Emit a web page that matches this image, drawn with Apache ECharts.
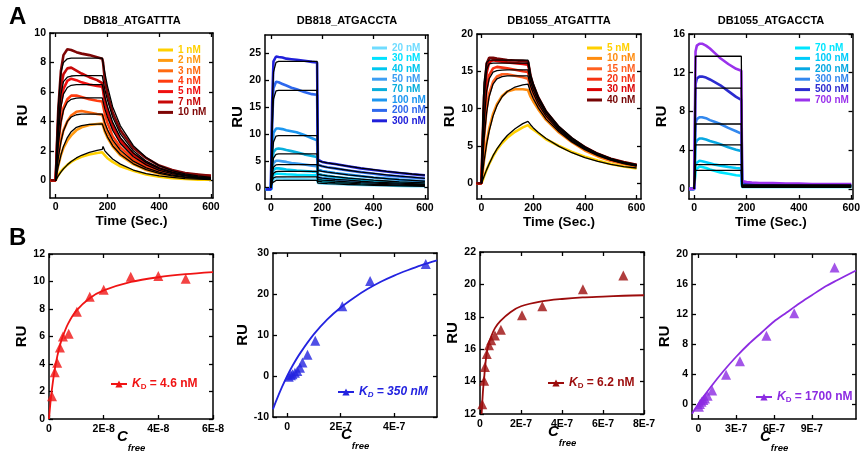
<!DOCTYPE html>
<html><head><meta charset="utf-8">
<script src="https://cdn.jsdelivr.net/npm/echarts@6/dist/echarts.min.js"></script>
<style>html,body{margin:0;padding:0;background:#fff}#c{width:863px;height:456px}</style>
</head><body><div id="c"></div>
<script>
// ---------- DATA ----------
const T = [-20, 0, 5, 10, 20, 30, 45, 60, 80, 100, 130, 160, 180, 183, 190, 200, 220, 250, 300, 350, 400, 450, 500, 550, 600];

const panelTitles = ['DB818_ATGATTTA', 'DB818_ATGACCTA', 'DB1055_ATGATTTA', 'DB1055_ATGACCTA'];

// A1 DB818_ATGATTTA
const a1Names = ['1 nM', '2 nM', '3 nM', '4 nM', '5 nM', '7 nM', '10 nM'];
const a1Data = [
  [0, 0, 0.2, 0.35, 0.6, 0.8, 1.05, 1.25, 1.45, 1.6, 1.75, 1.85, 1.9, 1.85, 1.7, 1.5, 1.25, 0.95, 0.65, 0.4, 0.25, 0.15, 0.1, 0.05, 0.05],
  [0, 0, 0.6, 1.0, 1.7, 2.2, 2.7, 3.05, 3.4, 3.6, 3.75, 3.82, 3.85, 3.7, 3.3, 2.9, 2.3, 1.7, 1.1, 0.7, 0.45, 0.3, 0.2, 0.15, 0.1],
  [0, 0, 1.0, 1.7, 2.7, 3.4, 4.0, 4.4, 4.65, 4.7, 4.6, 4.5, 4.45, 4.3, 3.8, 3.3, 2.6, 1.9, 1.25, 0.8, 0.55, 0.4, 0.3, 0.2, 0.15],
  [0, 0, 1.4, 2.5, 4.0, 4.9, 5.5, 5.75, 5.75, 5.65, 5.5, 5.4, 5.35, 5.1, 4.5, 3.9, 3.0, 2.25, 1.45, 0.95, 0.65, 0.45, 0.35, 0.25, 0.2],
  [0, 0, 1.8, 3.2, 5.2, 6.2, 6.75, 6.9, 6.8, 6.65, 6.5, 6.4, 6.35, 6.1, 5.3, 4.6, 3.6, 2.65, 1.7, 1.1, 0.75, 0.55, 0.4, 0.3, 0.25],
  [0, 0, 2.3, 4.2, 6.3, 7.2, 7.6, 7.65, 7.45, 7.25, 7.0, 6.8, 6.6, 6.3, 5.5, 4.8, 3.7, 2.8, 1.8, 1.2, 0.8, 0.6, 0.45, 0.35, 0.3],
  [0, 0, 2.5, 4.8, 7.4, 8.5, 8.9, 8.85, 8.7, 8.6, 8.5, 8.35, 8.25, 8.0, 6.8, 5.9, 4.6, 3.4, 2.2, 1.5, 1.0, 0.7, 0.5, 0.4, 0.3]
];
const a1Fit = [
  [null, 0, 0.15, 0.3, 0.55, 0.78, 1.05, 1.28, 1.52, 1.7, 1.9, 2.03, 2.1, 2.3, 2.0, 1.8, 1.45, 1.1, 0.7, 0.45, 0.3, 0.2, 0.12, 0.08, 0.05],
  [null, 0, 0.5, 0.95, 1.7, 2.3, 2.9, 3.3, 3.6, 3.72, 3.8, 3.82, 3.83, 3.75, 3.35, 2.95, 2.35, 1.75, 1.12, 0.72, 0.47, 0.3, 0.2, 0.13, 0.09],
  [null, 0, 0.8, 1.5, 2.6, 3.35, 4.0, 4.3, 4.45, 4.5, 4.5, 4.5, 4.5, 4.4, 3.9, 3.45, 2.75, 2.05, 1.3, 0.85, 0.55, 0.36, 0.24, 0.16, 0.1],
  [null, 0, 1.3, 2.4, 3.9, 4.75, 5.3, 5.5, 5.58, 5.6, 5.6, 5.6, 5.6, 5.5, 4.85, 4.3, 3.4, 2.5, 1.6, 1.05, 0.68, 0.45, 0.3, 0.2, 0.13],
  [null, 0, 1.7, 3.1, 4.95, 5.85, 6.3, 6.45, 6.5, 6.5, 6.5, 6.5, 6.5, 6.4, 5.65, 5.0, 3.95, 2.9, 1.85, 1.2, 0.8, 0.52, 0.34, 0.22, 0.15],
  [null, 0, 2.0, 3.7, 5.8, 6.7, 7.0, 7.08, 7.1, 7.1, 7.1, 7.1, 7.1, 7.0, 6.15, 5.45, 4.3, 3.15, 2.0, 1.3, 0.85, 0.56, 0.37, 0.24, 0.16],
  [null, 0, 2.8, 5.0, 7.3, 8.0, 8.25, 8.3, 8.3, 8.3, 8.3, 8.3, 8.3, 8.4, 7.3, 6.4, 5.0, 3.7, 2.35, 1.55, 1.0, 0.66, 0.44, 0.3, 0.2]
];

// A2 DB818_ATGACCTA
const a2Names = ['20 nM', '30 nM', '40 nM', '50 nM', '70 nM', '100 nM', '200 nM', '300 nM'];
const a2Data = [
  [-0.3, -0.3, 1.0, 1.6, 1.75, 1.7, 1.7, 1.65, 1.6, 1.6, 1.55, 1.5, 1.5, 0.9, 0.85, 0.8, 0.75, 0.7, 0.6, 0.52, 0.45, 0.4, 0.35, 0.3, 0.28],
  [-0.3, -0.3, 1.5, 2.4, 2.6, 2.6, 2.55, 2.5, 2.45, 2.4, 2.35, 2.3, 2.3, 1.25, 1.2, 1.15, 1.05, 0.95, 0.85, 0.72, 0.62, 0.55, 0.48, 0.42, 0.38],
  [-0.3, -0.3, 2.1, 3.3, 3.6, 3.6, 3.5, 3.4, 3.3, 3.2, 3.1, 3.0, 2.95, 1.6, 1.5, 1.45, 1.35, 1.25, 1.1, 0.95, 0.8, 0.7, 0.6, 0.55, 0.5],
  [-0.3, -0.3, 3.0, 4.6, 5.0, 5.0, 4.9, 4.8, 4.6, 4.5, 4.3, 4.1, 4.0, 2.0, 1.9, 1.8, 1.7, 1.55, 1.35, 1.15, 1.0, 0.85, 0.75, 0.65, 0.6],
  [-0.3, -0.3, 4.2, 6.6, 7.2, 7.3, 7.2, 7.0, 6.8, 6.6, 6.2, 5.9, 5.7, 2.6, 2.45, 2.35, 2.2, 2.0, 1.75, 1.5, 1.3, 1.15, 1.0, 0.9, 0.8],
  [-0.3, -0.3, 6.5, 10.2, 11.0, 11.0, 10.9, 10.7, 10.5, 10.3, 9.8, 9.2, 8.8, 3.4, 3.2, 3.1, 2.95, 2.75, 2.45, 2.15, 1.9, 1.7, 1.5, 1.35, 1.2],
  [-0.3, -0.3, 12.0, 18.5, 19.7, 19.6, 19.3, 19.0, 18.6, 18.3, 17.8, 17.4, 17.3, 4.3, 4.1, 4.0, 3.8, 3.6, 3.2, 2.9, 2.6, 2.3, 2.1, 1.9, 1.7],
  [-0.3, -0.3, 16.0, 23.5, 24.4, 24.3, 24.2, 24.0, 23.9, 23.8, 23.6, 23.4, 23.3, 5.2, 4.9, 4.8, 4.6, 4.4, 4.0, 3.6, 3.3, 3.0, 2.75, 2.5, 2.3]
];
const a2Fit = [
  [null, 0, 0.9, 1.25, 1.35, 1.35, 1.35, 1.35, 1.35, 1.35, 1.35, 1.35, 1.35, 0.85, 0.82, 0.8, 0.75, 0.7, 0.6, 0.52, 0.45, 0.4, 0.35, 0.3, 0.27],
  [null, 0, 1.3, 1.85, 2.0, 2.0, 2.0, 2.0, 2.0, 2.0, 2.0, 2.0, 2.0, 1.2, 1.15, 1.1, 1.05, 0.95, 0.85, 0.72, 0.62, 0.55, 0.48, 0.42, 0.38],
  [null, 0, 1.7, 2.7, 3.0, 3.05, 3.05, 3.05, 3.05, 3.05, 3.05, 3.05, 3.05, 1.5, 1.45, 1.4, 1.35, 1.25, 1.1, 0.95, 0.85, 0.75, 0.65, 0.6, 0.55],
  [null, 0, 2.4, 3.8, 4.25, 4.3, 4.3, 4.3, 4.3, 4.3, 4.3, 4.3, 4.3, 1.9, 1.85, 1.8, 1.7, 1.55, 1.4, 1.2, 1.05, 0.95, 0.85, 0.75, 0.65],
  [null, 0, 3.5, 5.5, 6.2, 6.3, 6.3, 6.3, 6.3, 6.3, 6.3, 6.3, 6.3, 2.5, 2.45, 2.35, 2.2, 2.05, 1.8, 1.6, 1.4, 1.25, 1.1, 1.0, 0.9],
  [null, 0, 5.5, 8.5, 9.6, 9.7, 9.7, 9.7, 9.7, 9.7, 9.7, 9.7, 9.7, 3.2, 3.1, 3.05, 2.9, 2.7, 2.4, 2.15, 1.9, 1.7, 1.5, 1.35, 1.2],
  [null, 0, 11.0, 16.5, 18.0, 18.1, 18.1, 18.1, 18.1, 18.1, 18.1, 18.1, 18.1, 4.2, 4.1, 4.0, 3.8, 3.6, 3.25, 2.9, 2.65, 2.4, 2.15, 1.95, 1.75],
  [null, 0, 15.0, 21.5, 23.3, 23.5, 23.5, 23.5, 23.5, 23.5, 23.5, 23.5, 23.5, 5.0, 4.9, 4.8, 4.6, 4.4, 4.0, 3.65, 3.35, 3.05, 2.8, 2.55, 2.35]
];

// A3 DB1055_ATGATTTA
const a3Names = ['5 nM ', '10 nM ', '15 nM ', '20 nM ', '30 nM ', '40 nM '];
const a3Data = [
  [0, 0, 0.4, 0.9, 1.8, 2.6, 3.6, 4.5, 5.4, 6.1, 6.9, 7.5, 7.8, 7.7, 7.45, 7.2, 6.7, 5.9, 5.0, 4.2, 3.55, 3.05, 2.6, 2.25, 2.0],
  [0, 0, 1.5, 3.0, 5.5, 7.3, 9.3, 10.6, 11.7, 12.3, 12.6, 12.6, 12.5, 12.3, 11.6, 11.0, 9.9, 8.5, 6.8, 5.5, 4.4, 3.6, 3.0, 2.6, 2.25],
  [0, 0, 3.0, 6.0, 10.0, 12.0, 13.6, 14.3, 14.6, 14.6, 14.4, 14.2, 14.0, 13.7, 12.7, 11.9, 10.5, 8.9, 7.0, 5.6, 4.55, 3.75, 3.1, 2.7, 2.35],
  [0, 0, 4.0, 8.0, 12.5, 14.5, 15.4, 15.6, 15.5, 15.4, 15.2, 15.0, 14.9, 14.5, 13.4, 12.4, 10.9, 9.2, 7.2, 5.8, 4.7, 3.85, 3.2, 2.75, 2.4],
  [0, 0, 5.0, 10.0, 14.8, 16.2, 16.5, 16.4, 16.3, 16.2, 16.1, 16.0, 15.9, 15.5, 14.1, 13.0, 11.3, 9.5, 7.4, 5.9, 4.8, 3.9, 3.25, 2.8, 2.45],
  [0, 0, 6.0, 11.5, 16.0, 16.8, 16.8, 16.7, 16.6, 16.5, 16.45, 16.4, 16.3, 15.8, 14.4, 13.2, 11.5, 9.6, 7.5, 6.0, 4.85, 3.95, 3.3, 2.85, 2.5]
];
const a3Fit = [
  [null, 0, 0.45, 0.9, 1.8, 2.6, 3.7, 4.6, 5.6, 6.4, 7.3, 8.0, 8.3, 8.15, 7.85, 7.45, 6.8, 6.0, 4.95, 4.1, 3.45, 2.95, 2.55, 2.25, 2.05],
  [null, 0, 1.5, 2.9, 5.2, 7.0, 9.0, 10.4, 11.6, 12.3, 12.9, 13.2, 13.3, 13.1, 12.2, 11.4, 10.1, 8.6, 6.9, 5.55, 4.5, 3.7, 3.1, 2.65, 2.3],
  [null, 0, 3.0, 5.8, 9.4, 11.6, 13.3, 14.0, 14.3, 14.4, 14.4, 14.4, 14.4, 14.2, 13.0, 12.1, 10.6, 9.0, 7.1, 5.7, 4.6, 3.8, 3.15, 2.7, 2.35],
  [null, 0, 4.5, 8.0, 12.3, 14.0, 14.9, 15.1, 15.15, 15.2, 15.2, 15.2, 15.2, 15.0, 13.6, 12.6, 11.0, 9.3, 7.3, 5.85, 4.75, 3.9, 3.25, 2.75, 2.4],
  [null, 0, 6.5, 11.5, 15.2, 16.0, 16.1, 16.1, 16.1, 16.1, 16.1, 16.1, 16.1, 15.9, 14.3, 13.2, 11.4, 9.6, 7.5, 6.0, 4.85, 3.95, 3.3, 2.8, 2.45],
  [null, 0, 8.0, 13.5, 16.2, 16.5, 16.5, 16.5, 16.5, 16.5, 16.5, 16.5, 16.5, 16.2, 14.6, 13.4, 11.6, 9.7, 7.6, 6.1, 4.9, 4.0, 3.3, 2.85, 2.5]
];

// A4 DB1055_ATGACCTA
const a4Names = ['70 nM ', '100 nM ', '200 nM ', '300 nM ', '500 nM ', '700 nM '];
const a4Data = [
  [0, 0, 2.0, 2.2, 2.3, 2.25, 2.15, 2.0, 1.85, 1.7, 1.55, 1.4, 1.35, 0.2, 0.2, 0.2, 0.2, 0.2, 0.2, 0.2, 0.2, 0.2, 0.2, 0.2, 0.2],
  [0, 0, 2.6, 2.8, 2.9, 2.85, 2.75, 2.65, 2.5, 2.4, 2.25, 2.15, 2.1, 0.3, 0.3, 0.3, 0.3, 0.3, 0.25, 0.25, 0.25, 0.25, 0.25, 0.25, 0.25],
  [0, 0, 4.7, 5.0, 5.2, 5.2, 5.1, 4.95, 4.8, 4.6, 4.3, 4.05, 3.9, 0.4, 0.35, 0.35, 0.35, 0.3, 0.3, 0.3, 0.3, 0.3, 0.3, 0.3, 0.3],
  [0, 0, 6.8, 7.2, 7.4, 7.4, 7.3, 7.1, 6.9, 6.7, 6.3, 5.95, 5.7, 0.5, 0.45, 0.45, 0.4, 0.4, 0.35, 0.35, 0.35, 0.3, 0.3, 0.3, 0.3],
  [0, 0, 10.8, 11.4, 11.6, 11.6, 11.5, 11.3, 11.0, 10.7, 10.1, 9.5, 9.2, 0.7, 0.6, 0.6, 0.55, 0.5, 0.5, 0.45, 0.45, 0.45, 0.4, 0.4, 0.4],
  [0, 0, 14.2, 14.8, 15.0, 15.0, 14.8, 14.5, 14.0, 13.5, 12.9, 12.4, 12.2, 0.8, 0.7, 0.7, 0.65, 0.6, 0.6, 0.55, 0.55, 0.5, 0.5, 0.5, 0.5]
];
const a4Fit = [
  [null, 0, 1.9, 1.9, 1.9, 1.9, 1.9, 1.9, 1.9, 1.9, 1.9, 1.9, 1.9, 0.15, 0.15, 0.15, 0.15, 0.15, 0.15, 0.15, 0.15, 0.15, 0.15, 0.15, 0.15],
  [null, 0, 2.5, 2.5, 2.5, 2.5, 2.5, 2.5, 2.5, 2.5, 2.5, 2.5, 2.5, 0.2, 0.2, 0.2, 0.2, 0.2, 0.2, 0.2, 0.2, 0.2, 0.2, 0.2, 0.2],
  [null, 0, 4.55, 4.55, 4.55, 4.55, 4.55, 4.55, 4.55, 4.55, 4.55, 4.55, 4.55, 0.25, 0.25, 0.25, 0.25, 0.25, 0.25, 0.25, 0.25, 0.25, 0.25, 0.25, 0.25],
  [null, 0, 6.7, 6.7, 6.7, 6.7, 6.7, 6.7, 6.7, 6.7, 6.7, 6.7, 6.7, 0.3, 0.3, 0.3, 0.3, 0.3, 0.3, 0.3, 0.3, 0.3, 0.3, 0.3, 0.3],
  [null, 0, 10.4, 10.4, 10.4, 10.4, 10.4, 10.4, 10.4, 10.4, 10.4, 10.4, 10.4, 0.35, 0.35, 0.35, 0.35, 0.35, 0.35, 0.35, 0.35, 0.35, 0.35, 0.35, 0.35],
  [null, 0, 13.7, 13.7, 13.7, 13.7, 13.7, 13.7, 13.7, 13.7, 13.7, 13.7, 13.7, 0.4, 0.4, 0.4, 0.4, 0.4, 0.4, 0.4, 0.4, 0.4, 0.4, 0.4, 0.4]
];

// B panels: points (Cfree, RU) and fitted curves
const b1X = [1.1e-9, 2.1e-9, 3.0e-9, 4.0e-9, 5.1e-9, 7.2e-9, 1.02e-8, 1.49e-8, 2.0e-8, 2.99e-8, 4.0e-8, 5.0e-8];
const b1Y = [1.65, 3.4, 4.1, 5.2, 6.0, 6.2, 7.8, 8.9, 9.4, 10.35, 10.4, 10.2];
const b1FitX = [0, 5e-10, 1e-9, 2e-9, 3e-9, 4e-9, 5e-9, 7e-9, 1e-8, 1.5e-8, 2e-8, 3e-8, 4e-8, 5e-8, 6e-8];
const b1FitY = [0, 1.13, 2.05, 3.48, 4.54, 5.35, 5.99, 6.94, 7.88, 8.8, 9.35, 9.97, 10.31, 10.53, 10.68];

const b2X = [6e-9, 1.4e-8, 2e-8, 2.9e-8, 3.8e-8, 4.8e-8, 5.7e-8, 7.6e-8, 1.05e-7, 2.06e-7, 3.1e-7, 5.18e-7];
const b2Y = [-0.2, 0.2, 0.4, 0.8, 1.2, 2.0, 3.3, 5.2, 8.6, 17.0, 23.2, 27.3];
const b2FitX = [-5.3e-8, -4e-8, -2e-8, 0, 2e-8, 5e-8, 1e-7, 1.5e-7, 2e-7, 2.5e-7, 3e-7, 3.5e-7, 4e-7, 4.5e-7, 5e-7, 5.6e-7];
const b2FitY = [-8.1, -5.9, -2.8, 0, 2.5, 5.7, 10.2, 13.8, 16.7, 19.1, 21.2, 23.0, 24.5, 25.8, 27.0, 28.2];

const b3X = [1.1e-8, 2e-8, 2.4e-8, 3.3e-8, 4.4e-8, 5.5e-8, 7.3e-8, 1.02e-7, 2.05e-7, 3.04e-7, 5.02e-7, 6.99e-7];
const b3Y = [12.6, 14.05, 14.9, 15.7, 16.25, 16.55, 16.85, 17.2, 18.1, 18.65, 19.7, 20.55];
const b3FitX = [8e-9, 1.1e-8, 1.5e-8, 2e-8, 2.5e-8, 3.2e-8, 4.4e-8, 5.5e-8, 7.3e-8, 1e-7, 1.5e-7, 2e-7, 3e-7, 4e-7, 5e-7, 6e-7, 7e-7, 8e-7];
const b3FitY = [12.0, 12.7, 13.5, 14.2, 14.9, 15.7, 16.4, 16.8, 17.3, 17.75, 18.3, 18.65, 18.95, 19.1, 19.2, 19.25, 19.3, 19.33];

const b4X = [5e-9, 1.3e-8, 2.6e-8, 4e-8, 5.3e-8, 7.4e-8, 1.1e-7, 2.2e-7, 3.3e-7, 5.4e-7, 7.6e-7, 1.08e-6];
const b4Y = [-0.35, 0.0, 0.3, 0.55, 0.75, 1.1, 1.8, 3.9, 5.7, 9.1, 12.1, 18.2];
const b4FitX = [-5e-8, 0, 1e-7, 2e-7, 3e-7, 4e-7, 5e-7, 6e-7, 7e-7, 8e-7, 9e-7, 1e-6, 1.1e-6, 1.25e-6];
const b4FitY = [-1.3, 0, 2.3, 4.4, 6.3, 8.0, 9.5, 11.0, 12.2, 13.4, 14.5, 15.6, 16.5, 17.8];

const bKD = ['4.6 nM', '350 nM', '6.2 nM', '1700 nM'];

// tick values and labels
const timeTicks = [0, 200, 400, 600];
const timeLabels = ['0', '200', '400', '600'];
const a1YTicks = [0, 2, 4, 6, 8, 10];
const a2YTicks = [0, 5, 10, 15, 20, 25];
const a3YTicks = [0, 5, 10, 15, 20];
const a4YTicks = [0, 4, 8, 12, 16];
const b1XTicks = [0, 2e-8, 4e-8, 6e-8];
const b1XLabels = ['0', '2E-8', '4E-8', '6E-8'];
const b1YTicks = [0, 2, 4, 6, 8, 10, 12];
const b2XTicks = [0, 2e-7, 4e-7];
const b2XLabels = ['0', '2E-7', '4E-7'];
const b2YTicks = [-10, 0, 10, 20, 30];
const b3XTicks = [0, 2e-7, 4e-7, 6e-7, 8e-7];
const b3XLabels = ['0', '2E-7', '4E-7', '6E-7', '8E-7'];
const b3YTicks = [12, 14, 16, 18, 20, 22];
const b4XTicks = [0, 3e-7, 6e-7, 9e-7];
const b4XLabels = ['0', '3E-7', '6E-7', '9E-7'];
const b4YTicks = [0, 4, 8, 12, 16, 20];

// ---------- STYLE / LAYOUT ----------
const F = 'Liberation Sans, Arial, Helvetica, sans-serif';
const a1Colors = ['#FFD000', '#FF9A10', '#FF6A10', '#FF3C10', '#F01010', '#C80808', '#7E0505'];
const a2Colors = ['#70DCFF', '#00E2FF', '#00C6EE', '#3C9EF2', '#08AEDC', '#1C96F0', '#2E68EE', '#2020DA'];
const a3Colors = ['#FFD000', '#FF8C10', '#FF6020', '#F53212', '#DC0404', '#760404'];
const a4Colors = ['#00E6FF', '#00CCFA', '#08A8E2', '#3388EE', '#2C2CD0', '#9A32EC'];
const bColors = ['#F01414', '#2323E0', '#9C0C0C', '#8C2BE2'];

const grids = [
  {left: 50, top: 33, width: 163, height: 165},
  {left: 265, top: 35, width: 163, height: 164},
  {left: 477, top: 34, width: 164, height: 165},
  {left: 689, top: 34, width: 164, height: 165},
  {left: 49, top: 254, width: 164, height: 165},
  {left: 273, top: 253, width: 164, height: 164},
  {left: 480, top: 252, width: 164, height: 162},
  {left: 692, top: 254, width: 164, height: 165}
];
const xRanges = [[-22, 608], [-23, 612], [-17, 617], [-20, 605], [0, 6e-8], [-5.3e-8, 5.6e-7], [0, 8e-7], [-5e-8, 1.25e-6]];
const yRanges = [[-1.2, 10], [-2.1, 28.4], [-2.1, 20], [-1.05, 16], [0, 12], [-10, 30], [12, 22], [-2, 20]];

function pairs(xs, ys) { return xs.map((x, i) => [x, ys[i]]); }
function labelFor(v, ticks, labels) {
  let best = 0, bd = Infinity;
  ticks.forEach((t, i) => { const d = Math.abs(t - v); if (d < bd) { bd = d; best = i; } });
  return labels[best];
}

const xTickSets = [
  [timeTicks, timeLabels], [timeTicks, timeLabels], [timeTicks, timeLabels], [timeTicks, timeLabels],
  [b1XTicks, b1XLabels], [b2XTicks, b2XLabels], [b3XTicks, b3XLabels], [b4XTicks, b4XLabels]
];
const yTickSets = [a1YTicks, a2YTicks, a3YTicks, a4YTicks, b1YTicks, b2YTicks, b3YTicks, b4YTicks];

const tickLabelStyle = {color: '#000', fontWeight: 'bold', fontSize: 10.5, fontFamily: F};
const cName = {
  name: '{c|C}\n{f|free}',
  nameLocation: 'middle', nameGap: 12, nameMoveOverlap: false,
  nameTextStyle: {
    rich: {
      c: {fontSize: 15, fontStyle: 'italic', fontWeight: 'bold', fontFamily: F, color: '#000', lineHeight: 12, padding: [0, 17, 0, 0]},
      f: {fontSize: 9.5, fontStyle: 'italic', fontWeight: 'bold', fontFamily: F, color: '#000', lineHeight: 10, padding: [0, 0, 0, 11]}
    }
  }
};
const timeName = {name: 'Time (Sec.)', nameLocation: 'middle', nameGap: 15,
  nameTextStyle: {fontSize: 13.5, fontWeight: 'bold', fontFamily: F, color: '#000'}};
const ruName = {name: 'RU', nameLocation: 'middle', nameGap: 17,
  nameTextStyle: {fontSize: 15, fontWeight: 'bold', fontFamily: F, color: '#000'}};

const xAxes = [], yAxes = [];
grids.forEach((g, gi) => {
  const [xt, xl] = xTickSets[gi];
  const yt = yTickSets[gi];
  ['bottom', 'top'].forEach(pos => {
    const ax = {
      type: 'value', gridIndex: gi, position: pos, min: xRanges[gi][0], max: xRanges[gi][1],
      axisLine: {show: true, onZero: false, lineStyle: {color: '#000', width: 1.5}},
      axisTick: {show: true, inside: true, length: 4, customValues: xt, lineStyle: {color: '#000', width: 1.3}},
      axisLabel: Object.assign({show: pos === 'bottom', customValues: xt, margin: gi < 4 ? 4 : 5,
        formatter: v => labelFor(v, xt, xl)}, tickLabelStyle),
      splitLine: {show: false}
    };
    if (pos === 'bottom') Object.assign(ax, gi < 4 ? timeName : cName);
    xAxes.push(ax);
  });
  ['left', 'right'].forEach(pos => {
    const ax = {
      type: 'value', gridIndex: gi, position: pos, min: yRanges[gi][0], max: yRanges[gi][1],
      axisLine: {show: true, onZero: false, lineStyle: {color: '#000', width: 1.5}},
      axisTick: {show: true, inside: true, length: 4, customValues: yt, lineStyle: {color: '#000', width: 1.3}},
      axisLabel: Object.assign({show: pos === 'left', customValues: yt, margin: 4,
        formatter: v => labelFor(v, yt, yt.map(String))}, tickLabelStyle),
      splitLine: {show: false}
    };
    if (pos === 'left') Object.assign(ax, ruName);
    yAxes.push(ax);
  });
});

const series = [];
function addA(gi, names, colors, data, fits) {
  names.forEach((n, i) => {
    series.push({type: 'line', name: n, xAxisIndex: 2 * gi, yAxisIndex: 2 * gi, data: pairs(T, data[i]),
      symbol: 'none', lineStyle: {color: colors[i], width: 2.6}, itemStyle: {color: colors[i]}, z: 2, silent: true});
  });
  fits.forEach((f, i) => {
    series.push({type: 'line', name: 'fit_' + gi + '_' + i, xAxisIndex: 2 * gi, yAxisIndex: 2 * gi, data: pairs(T, f),
      symbol: 'none', lineStyle: {color: '#000', width: 1.3}, itemStyle: {color: '#000'}, z: 3, silent: true});
  });
}
addA(0, a1Names, a1Colors, a1Data, a1Fit);
addA(1, a2Names, a2Colors, a2Data, a2Fit);
addA(2, a3Names, a3Colors, a3Data, a3Fit);
addA(3, a4Names, a4Colors, a4Data, a4Fit);

const bSets = [[b1X, b1Y, b1FitX, b1FitY], [b2X, b2Y, b2FitX, b2FitY], [b3X, b3Y, b3FitX, b3FitY], [b4X, b4Y, b4FitX, b4FitY]];
const bNames = ['KD1', 'KD2', 'KD3', 'KD4'];
bSets.forEach(([x, y, fx, fy], k) => {
  const gi = 4 + k;
  series.push({type: 'line', name: bNames[k], xAxisIndex: 2 * gi, yAxisIndex: 2 * gi, data: pairs(fx, fy),
    smooth: 0.3, symbol: 'triangle', symbolSize: 9, showSymbol: false,
    lineStyle: {color: bColors[k], width: 1.8}, itemStyle: {color: bColors[k]}, z: 2, silent: true});
  series.push({type: 'scatter', name: 'pts' + k, xAxisIndex: 2 * gi, yAxisIndex: 2 * gi, data: pairs(x, y),
    symbol: 'triangle', symbolSize: 10, itemStyle: {color: bColors[k]}, z: 3, silent: true});
});

function aLegend(left, top, names, colors) {
  return {left, top, orient: 'vertical', padding: 0, itemGap: 0.4, itemWidth: 15, itemHeight: 3, icon: 'rect',
    selectedMode: false, formatter: n => n.trim(),
    textStyle: {fontSize: 10, fontWeight: 'bold', fontFamily: F, lineHeight: 10},
    data: names.map((n, i) => ({name: n, textStyle: {color: colors[i]}}))};
}
function bLegend(left, top, k, italicAll) {
  const c = bColors[k];
  const st = italicAll ? 'italic' : 'normal';
  return {left, top, orient: 'vertical', padding: 0, itemWidth: 16, itemHeight: 9, selectedMode: false,
    data: [bNames[k]],
    formatter: () => '{k|K}{d|D}{t| = ' + bKD[k] + '}',
    textStyle: {rich: {
      k: {fontSize: 12, fontStyle: 'italic', fontWeight: 'bold', fontFamily: F, color: c, lineHeight: 14},
      d: {fontSize: 8, fontStyle: st, fontWeight: 'bold', fontFamily: F, color: c, lineHeight: 8, padding: [8, 0, 0, 0], verticalAlign: 'bottom'},
      t: {fontSize: 12, fontStyle: st, fontWeight: 'bold', fontFamily: F, color: c, lineHeight: 14}
    }}};
}

const titleCenters = [132, 347, 559, 771];
const option = {
  animation: false,
  backgroundColor: '#fff',
  title: [
    ...panelTitles.map((t, i) => ({text: t, left: titleCenters[i], top: 15, textAlign: 'center', padding: 0,
      textStyle: {fontSize: 11, fontWeight: 'bold', fontFamily: F, color: '#000'}})),
    {text: 'A', left: 9, top: 5, padding: 0, textStyle: {fontSize: 24, fontWeight: 'bold', fontFamily: F, color: '#000'}},
    {text: 'B', left: 9, top: 226, padding: 0, textStyle: {fontSize: 24, fontWeight: 'bold', fontFamily: F, color: '#000'}}
  ],
  grid: grids.map(g => Object.assign({show: false, containLabel: false}, g)),
  xAxis: xAxes,
  yAxis: yAxes,
  legend: [
    aLegend(158, 45, a1Names, a1Colors),
    aLegend(372, 43, a2Names, a2Colors),
    aLegend(587, 43, a3Names, a3Colors),
    aLegend(795, 43, a4Names, a4Colors),
    bLegend(110, 375, 0, false),
    bLegend(337, 383, 1, true),
    bLegend(547, 374, 2, false),
    bLegend(755, 388, 3, false)
  ],
  series
};
const chart = echarts.init(document.getElementById('c'), null, {renderer: 'canvas'});
chart.setOption(option);
</script>
</body></html>
